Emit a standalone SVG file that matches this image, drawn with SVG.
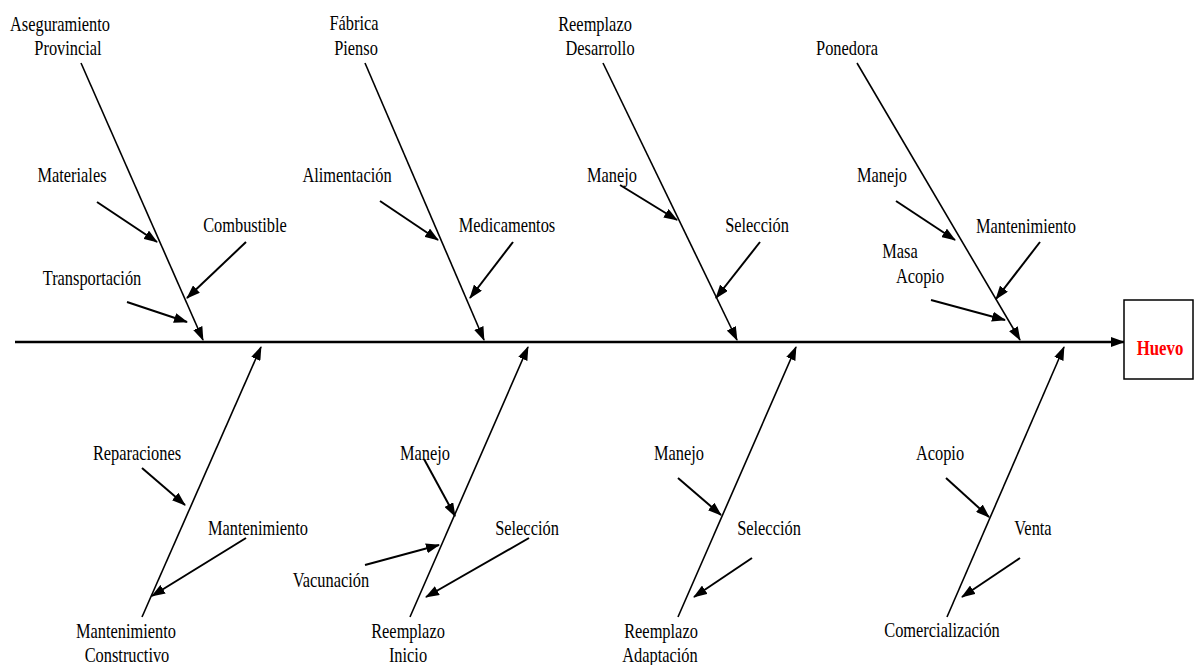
<svg xmlns="http://www.w3.org/2000/svg" width="1196" height="665" viewBox="0 0 1196 665">
<style>
.t{font-family:"Liberation Serif","Times New Roman",serif;font-size:20px;fill:#000;text-anchor:middle}
.h{font-family:"Liberation Serif","Times New Roman",serif;font-size:21px;font-weight:bold;fill:#ff0000;text-anchor:middle}
.b{stroke:#000;stroke-width:1.6;fill:none;marker-end:url(#ah)}
.s{stroke:#000;stroke-width:2;fill:none;marker-end:url(#ah)}
.sp{stroke:#000;stroke-width:2.5;fill:none;marker-end:url(#ah)}
</style>
<defs>
<marker id="ah" markerUnits="userSpaceOnUse" markerWidth="14" markerHeight="10" refX="13" refY="5" orient="auto">
<path d="M0,0 L14,5 L0,10 z" fill="#000"/>
</marker>
</defs>
<rect width="1196" height="665" fill="#fff"/>
<g id="connectors">
<line class="sp" x1="15" y1="342" x2="1124" y2="342"/>
<line class="b" x1="81" y1="63" x2="203" y2="340"/>
<line class="b" x1="365" y1="63" x2="484" y2="340"/>
<line class="b" x1="603" y1="63" x2="737" y2="340"/>
<line class="b" x1="857" y1="63" x2="1020" y2="340"/>
<line class="b" x1="142" y1="617" x2="261" y2="347"/>
<line class="b" x1="410" y1="617" x2="528" y2="347"/>
<line class="b" x1="678" y1="617" x2="796" y2="347"/>
<line class="b" x1="947" y1="617" x2="1064" y2="347"/>
<line class="s" x1="97" y1="202" x2="157" y2="242"/>
<line class="s" x1="127" y1="302" x2="187" y2="322"/>
<line class="s" x1="246" y1="242" x2="187" y2="298"/>
<line class="s" x1="380" y1="201" x2="438" y2="240"/>
<line class="s" x1="513" y1="242" x2="470" y2="298"/>
<line class="s" x1="620" y1="185" x2="677" y2="220"/>
<line class="s" x1="760" y1="242" x2="716" y2="298"/>
<line class="s" x1="896" y1="201" x2="955" y2="240"/>
<line class="s" x1="1040" y1="242" x2="996" y2="299"/>
<line class="s" x1="931" y1="300" x2="1005" y2="320"/>
<line class="s" x1="142" y1="468" x2="185" y2="505"/>
<line class="s" x1="246" y1="538" x2="152" y2="596"/>
<line class="s" x1="424" y1="459" x2="455" y2="516"/>
<line class="s" x1="365" y1="565" x2="439" y2="545"/>
<line class="s" x1="529" y1="538" x2="426" y2="597"/>
<line class="s" x1="678" y1="478" x2="721" y2="515"/>
<line class="s" x1="752" y1="558" x2="694" y2="597"/>
<line class="s" x1="946" y1="478" x2="989" y2="517"/>
<line class="s" x1="1020" y1="558" x2="962" y2="597"/>
</g>
<g id="huevo">
<rect x="1124" y="300" width="69" height="79" fill="#fff" stroke="#000" stroke-width="1.5"/>
<text class="h" transform="translate(1160,355) scale(0.8,1)">Huevo</text>
</g>
<g id="aseguramiento">
<text class="t" transform="translate(60,31) scale(0.82,1)">Aseguramiento</text>
<text class="t" transform="translate(68,55) scale(0.82,1)">Provincial</text>
</g>
<g id="materiales"><text class="t" transform="translate(72,182) scale(0.82,1)">Materiales</text></g>
<g id="transportacion"><text class="t" transform="translate(92,285) scale(0.82,1)">Transportación</text></g>
<g id="combustible"><text class="t" transform="translate(245,232) scale(0.82,1)">Combustible</text></g>
<g id="fabrica">
<text class="t" transform="translate(354,30) scale(0.82,1)">Fábrica</text>
<text class="t" transform="translate(356,55) scale(0.82,1)">Pienso</text>
</g>
<g id="alimentacion"><text class="t" transform="translate(347,182) scale(0.82,1)">Alimentación</text></g>
<g id="medicamentos"><text class="t" transform="translate(507,232) scale(0.82,1)">Medicamentos</text></g>
<g id="reemplazo-desarrollo">
<text class="t" transform="translate(595,31) scale(0.82,1)">Reemplazo</text>
<text class="t" transform="translate(600,55) scale(0.82,1)">Desarrollo</text>
</g>
<g id="manejo1"><text class="t" transform="translate(612,182) scale(0.82,1)">Manejo</text></g>
<g id="seleccion1"><text class="t" transform="translate(757,232) scale(0.82,1)">Selección</text></g>
<g id="ponedora"><text class="t" transform="translate(847,55) scale(0.82,1)">Ponedora</text></g>
<g id="manejo2"><text class="t" transform="translate(882,182) scale(0.82,1)">Manejo</text></g>
<g id="mantenimiento1"><text class="t" transform="translate(1026,233) scale(0.82,1)">Mantenimiento</text></g>
<g id="masa-acopio">
<text class="t" transform="translate(900,258) scale(0.82,1)">Masa</text>
<text class="t" transform="translate(920,283) scale(0.82,1)">Acopio</text>
</g>
<g id="mant-constructivo">
<text class="t" transform="translate(126,638) scale(0.82,1)">Mantenimiento</text>
<text class="t" transform="translate(127,662) scale(0.82,1)">Constructivo</text>
</g>
<g id="reparaciones"><text class="t" transform="translate(137,460) scale(0.82,1)">Reparaciones</text></g>
<g id="mantenimiento2"><text class="t" transform="translate(258,535) scale(0.82,1)">Mantenimiento</text></g>
<g id="reemplazo-inicio">
<text class="t" transform="translate(408,638) scale(0.82,1)">Reemplazo</text>
<text class="t" transform="translate(408,662) scale(0.82,1)">Inicio</text>
</g>
<g id="manejo3"><text class="t" transform="translate(425,460) scale(0.82,1)">Manejo</text></g>
<g id="vacunacion"><text class="t" transform="translate(331,587) scale(0.82,1)">Vacunación</text></g>
<g id="seleccion2"><text class="t" transform="translate(527,535) scale(0.82,1)">Selección</text></g>
<g id="reemplazo-adaptacion">
<text class="t" transform="translate(661,638) scale(0.82,1)">Reemplazo</text>
<text class="t" transform="translate(660,662) scale(0.82,1)">Adaptación</text>
</g>
<g id="manejo4"><text class="t" transform="translate(679,460) scale(0.82,1)">Manejo</text></g>
<g id="seleccion3"><text class="t" transform="translate(769,535) scale(0.82,1)">Selección</text></g>
<g id="comercializacion"><text class="t" transform="translate(942,637) scale(0.82,1)">Comercialización</text></g>
<g id="acopio"><text class="t" transform="translate(940,460) scale(0.82,1)">Acopio</text></g>
<g id="venta"><text class="t" transform="translate(1033,535) scale(0.82,1)">Venta</text></g>
</svg>
